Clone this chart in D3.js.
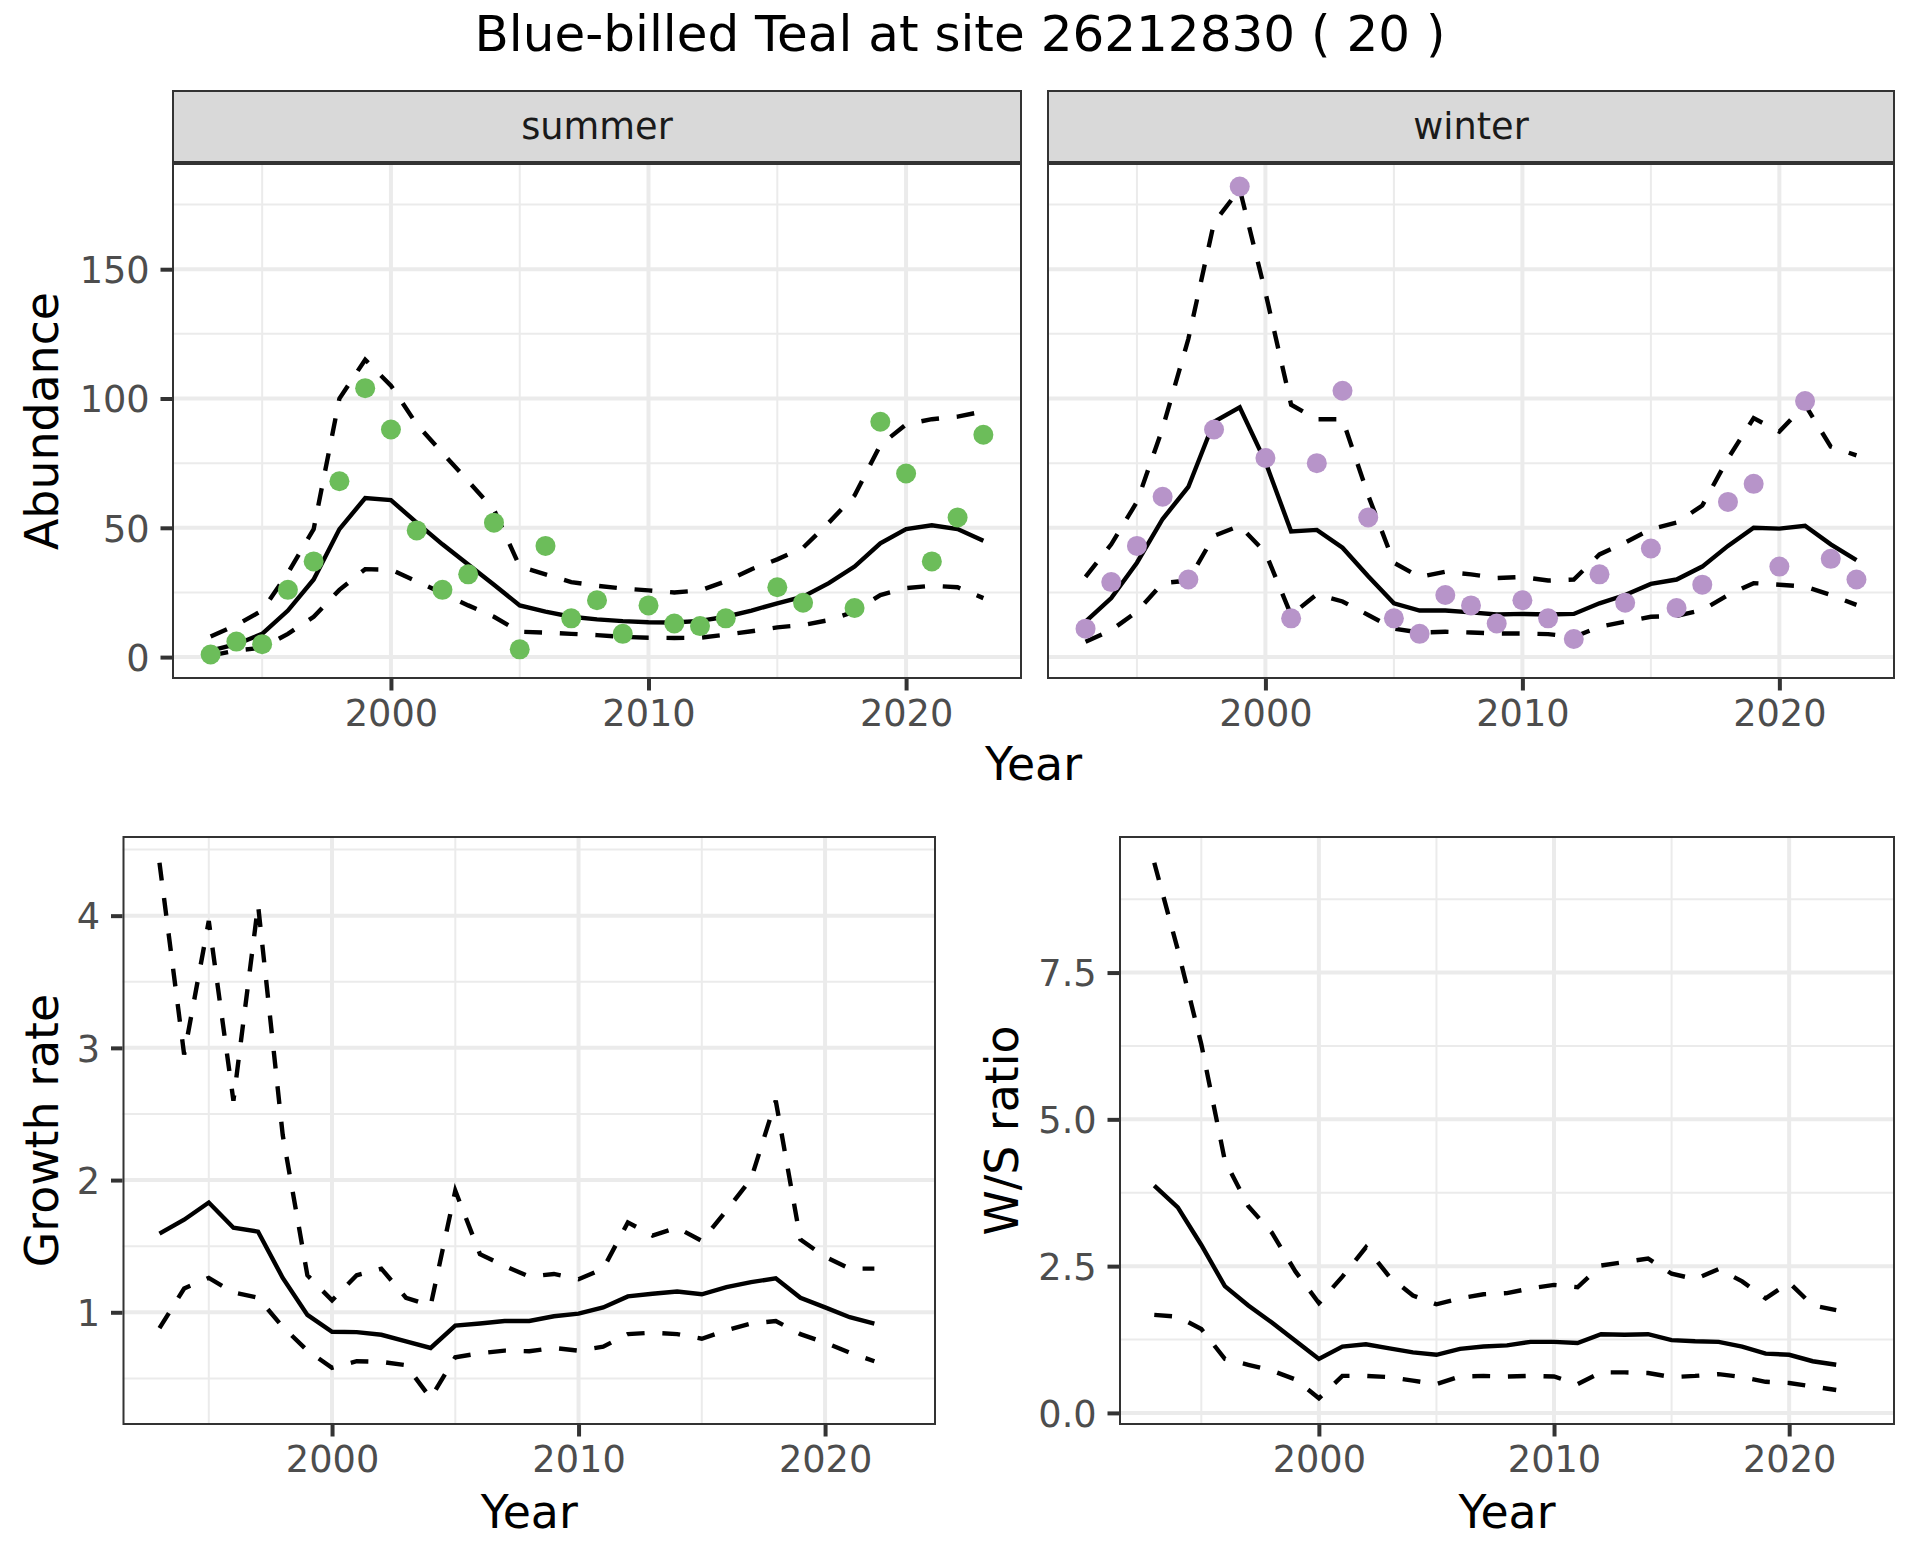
<!DOCTYPE html>
<html>
<head>
<meta charset="utf-8">
<title>Blue-billed Teal at site 26212830</title>
<script src="https://cdnjs.cloudflare.com/ajax/libs/d3/7.8.5/d3.min.js"></script>
<style>
  body { margin: 0; background: #fff; }
  svg { display: block; font-family: "DejaVu Sans", sans-serif; }
  .grid-major { stroke: #ebebeb; stroke-width: 4; }
  .grid-minor { stroke: #ebebeb; stroke-width: 2; }
  .axis-title { fill: #000; font-size: 45.8px; }
  .strip-text { fill: #1a1a1a; font-size: 36.7px; }
</style>
</head>
<body>
<svg width="1920" height="1560"></svg>
<script>
// data
var years = [1993, 1994, 1995, 1996, 1997, 1998, 1999, 2000, 2001, 2002, 2003, 2004, 2005, 2006, 2007, 2008,
             2009, 2010, 2011, 2012, 2013, 2014, 2015, 2016, 2017, 2018, 2019, 2020, 2021, 2022, 2023];

var summerCounts = [1, 6, 5, 26, 37, 68, 104, 88, 49, 26, 32, 52, 3, 43, 15, 22,
                    9, 20, 13, 12, 15, null, 27, 21, null, 19, 91, 71, 37, 54, 86];
var summerMean = [2.5, 5, 9, 18, 30, 49.5, 61.5, 60.7, 52, 43.6, 35.8, 28, 20, 17.6, 15.6, 14.6,
                  13.9, 13.5, 13.4, 14, 15.6, 18, 20.8, 23.4, 28.6, 35, 44, 49.5, 51, 49.5, 45];
var summerUpper = [8, 12.4, 18, 32.5, 49.5, 100, 115, 105, 90, 79, 68, 57, 35, 32, 29, 27.6,
                   26.5, 25.8, 25, 25.8, 29.3, 34, 37.8, 42.3, 52, 62.5, 82, 90, 92, 93, 95];
var summerLower = [0.6, 2.6, 3.6, 9, 15.6, 26, 34, 33.8, 29.3, 24.7, 20, 15.6, 9.8, 9.5, 9, 8.5,
                   7.8, 7.5, 7.4, 7.5, 8.7, 10, 11.5, 12.4, 14.3, 17.6, 24, 26.7, 27.6, 27, 22.8];

var winterCounts = [11, 29, 43, 62, 30, 88, 182, 77, 15, 75, 103, 54, 15, 9, 24, 20,
                    13, 22, 15, 7, 32, 21, 42, 19, 28, 60, 67, 35, 99, 38, 30];
var winterMean = [13.7, 22.8, 36.5, 53.4, 65.8, 91, 96.6, 75.5, 48.6, 49.2, 42.3, 31.3, 20.8, 18, 18, 17.3,
                  16.5, 16.7, 16.5, 16.7, 20.8, 24, 28.3, 30, 35, 43, 50, 49.7, 50.8, 43.6, 37.5];
var winterUpper = [31, 43.6, 60, 88.5, 123, 168, 181, 141, 97.6, 92, 92, 62.5, 36.5, 31, 33, 32,
                   30.6, 31, 29.6, 30, 39.7, 44.3, 49.5, 52, 58.6, 76.8, 92.4, 87.2, 97.6, 81.4, 78];
var winterLower = [5.9, 10.4, 17.6, 28.6, 29.6, 46.9, 50.8, 40.4, 16.3, 24.3, 21.5, 16.3, 11, 9.5, 9.8, 9.5,
                   9.1, 9.1, 8.9, 7.8, 11.7, 13.7, 15.6, 15.9, 18.2, 24, 28.6, 28, 27.3, 24, 20.2];

var rateYears = [1993, 1994, 1995, 1996, 1997, 1998, 1999, 2000, 2001, 2002, 2003, 2004, 2005, 2006, 2007,
                 2008, 2009, 2010, 2011, 2012, 2013, 2014, 2015, 2016, 2017, 2018, 2019, 2020, 2021, 2022];

var growthMean = [1.595, 1.70, 1.83, 1.64, 1.61, 1.26, 0.98, 0.853, 0.85, 0.83, 0.78, 0.73, 0.90, 0.915, 0.934,
                  0.934, 0.97, 0.99, 1.037, 1.12, 1.14, 1.157, 1.136, 1.19, 1.228, 1.257, 1.11, 1.037, 0.963, 0.915];
var growthUpper = [4.40, 2.95, 3.96, 2.60, 4.08, 2.34, 1.28, 1.09, 1.28, 1.33, 1.11, 1.05, 1.92, 1.44, 1.35,
                   1.27, 1.29, 1.25, 1.33, 1.68, 1.58, 1.64, 1.54, 1.77, 2.01, 2.60, 1.55, 1.42, 1.33, 1.33];
var growthLower = [0.88, 1.18, 1.26, 1.15, 1.11, 0.89, 0.71, 0.58, 0.63, 0.625, 0.60, 0.35, 0.66, 0.69, 0.71,
                   0.705, 0.73, 0.71, 0.74, 0.835, 0.846, 0.835, 0.80, 0.864, 0.915, 0.934, 0.835, 0.77, 0.695, 0.63];

var ratioMean = [3.87, 3.50, 2.86, 2.16, 1.83, 1.54, 1.23, 0.92, 1.13, 1.17, 1.10, 1.03, 0.99, 1.09, 1.13,
                 1.15, 1.21, 1.21, 1.19, 1.34, 1.33, 1.34, 1.24, 1.22, 1.21, 1.13, 1.01, 0.99, 0.88, 0.82];
var ratioUpper = [9.37, 7.89, 6.28, 4.30, 3.52, 3.07, 2.41, 1.87, 2.32, 2.82, 2.32, 2.0, 1.85, 1.95, 2.02,
                  2.04, 2.12, 2.18, 2.14, 2.51, 2.57, 2.63, 2.37, 2.28, 2.45, 2.24, 1.95, 2.22, 1.83, 1.75];
var ratioLower = [1.67, 1.64, 1.43, 0.92, 0.82, 0.72, 0.57, 0.25, 0.63, 0.63, 0.61, 0.55, 0.49, 0.62, 0.63,
                  0.62, 0.63, 0.62, 0.49, 0.69, 0.69, 0.68, 0.61, 0.63, 0.66, 0.61, 0.53, 0.51, 0.45, 0.39];

// breaks and labels
var yearTicks = [2000, 2010, 2020];
var yearMinor = [1995, 2005, 2015];
var abundanceTicks = [0, 50, 100, 150];
var abundanceMinor = [25, 75, 125, 175];
var growthTicks = [1, 2, 3, 4];
var growthMinor = [0.5, 1.5, 2.5, 3.5, 4.5];
var ratioTicks = [0, 2.5, 5, 7.5];
var ratioTickLabels = ["0.0", "2.5", "5.0", "7.5"];
var ratioMinor = [1.25, 3.75, 6.25, 8.75];

var svg = d3.select("svg");

// ggplot style 5% expansion
function expand(ext) {
  var d = ext[1] - ext[0];
  return [ext[0] - 0.05 * d, ext[1] + 0.05 * d];
}
function extentOf(arrays) {
  var all = [];
  arrays.forEach(function(a) { a.forEach(function(v) { if (v != null) all.push(v); }); });
  return d3.extent(all);
}

var xDomain = expand([years[0], years[years.length - 1]]);

function drawPanel(box, opt) {
  var w = box.right - box.left, h = box.bottom - box.top;
  var x = d3.scaleLinear().domain(xDomain).range([0, w]);
  var y = d3.scaleLinear().domain(opt.yDomain).range([h, 0]);
  var g = svg.append("g").attr("transform", "translate(" + box.left + "," + box.top + ")");

  g.append("rect").attr("width", w).attr("height", h).attr("fill", "#fff");

  var inY = function(v) { return v >= opt.yDomain[0] && v <= opt.yDomain[1]; };
  g.selectAll(".hmin").data(opt.yMinor.filter(inY)).enter().append("line")
    .attr("class", "grid-minor").attr("x1", 0).attr("x2", w)
    .attr("y1", function(d) { return y(d); }).attr("y2", function(d) { return y(d); });
  g.selectAll(".vmin").data(yearMinor).enter().append("line")
    .attr("class", "grid-minor").attr("y1", 0).attr("y2", h)
    .attr("x1", function(d) { return x(d); }).attr("x2", function(d) { return x(d); });
  g.selectAll(".hmaj").data(opt.yTicks.filter(inY)).enter().append("line")
    .attr("class", "grid-major").attr("x1", 0).attr("x2", w)
    .attr("y1", function(d) { return y(d); }).attr("y2", function(d) { return y(d); });
  g.selectAll(".vmaj").data(yearTicks).enter().append("line")
    .attr("class", "grid-major").attr("y1", 0).attr("y2", h)
    .attr("x1", function(d) { return x(d); }).attr("x2", function(d) { return x(d); });

  opt.lines.forEach(function(ln) {
    var line = d3.line()
      .defined(function(d) { return d[1] != null; })
      .x(function(d) { return x(d[0]); })
      .y(function(d) { return y(d[1]); });
    g.append("path")
      .datum(opt.xs.map(function(yr, i) { return [yr, ln.values[i]]; }))
      .attr("fill", "none")
      .attr("stroke", "#000")
      .attr("stroke-width", 4.4)
      .attr("stroke-dasharray", ln.dashed ? "17.8,17.8" : null)
      .attr("d", line);
  });

  if (opt.points) {
    g.selectAll(".pt")
      .data(opt.xs.map(function(yr, i) { return [yr, opt.points[i]]; }).filter(function(d) { return d[1] != null; }))
      .enter().append("circle")
      .attr("cx", function(d) { return x(d[0]); })
      .attr("cy", function(d) { return y(d[1]); })
      .attr("r", 10)
      .attr("fill", opt.pointColor);
  }

  g.append("rect").attr("x", 1).attr("y", 1).attr("width", w - 2).attr("height", h - 2)
    .attr("fill", "none").attr("stroke", "#333").attr("stroke-width", 2);

  var xAxis = g.append("g").attr("transform", "translate(0," + h + ")")
    .call(d3.axisBottom(x).tickValues(yearTicks).tickFormat(d3.format("d")).tickSize(11.5).tickPadding(9.5));
  styleAxis(xAxis);

  if (opt.yAxis) {
    var yAx = d3.axisLeft(y).tickValues(opt.yTicks).tickSize(11.5).tickPadding(10.8);
    if (opt.yLabels) yAx.tickFormat(function(d, i) { return opt.yLabels[i]; });
    else yAx.tickFormat(d3.format("d"));
    var yG = g.append("g").call(yAx);
    styleAxis(yG);
    yG.selectAll(".tick text").attr("dy", "0.36em");
  }

  if (opt.strip) {
    g.append("rect").attr("x", 1).attr("y", -73 + 1).attr("width", w - 2).attr("height", 73 - 2)
      .attr("fill", "#d9d9d9").attr("stroke", "#333").attr("stroke-width", 2);
    g.append("text").attr("class", "strip-text").attr("x", w / 2).attr("y", -73 / 2 + 12.5)
      .attr("text-anchor", "middle").text(opt.strip);
  }
  return g;
}

function styleAxis(a) {
  a.select(".domain").remove();
  a.attr("font-family", null).attr("font-size", null);
  a.selectAll(".tick line").attr("stroke", "#333").attr("stroke-width", 4);
  a.selectAll(".tick text").attr("fill", "#4d4d4d").style("font-size", "36.7px")
    .style("font-family", "'DejaVu Sans', sans-serif");
}

// top row: shared y
var abDomain = expand(extentOf([summerCounts, summerMean, summerUpper, summerLower,
                                winterCounts, winterMean, winterUpper, winterLower]));

var summerBox = {left: 172, top: 163, right: 1022, bottom: 679};
var winterBox = {left: 1047, top: 163, right: 1895, bottom: 679};
var growthBox = {left: 122.5, top: 836, right: 936, bottom: 1425};
var ratioBox = {left: 1119, top: 836, right: 1895, bottom: 1425};

drawPanel(summerBox, {
  xs: years, yDomain: abDomain, yTicks: abundanceTicks, yMinor: abundanceMinor, yAxis: true,
  lines: [{values: summerMean}, {values: summerUpper, dashed: true}, {values: summerLower, dashed: true}],
  points: summerCounts, pointColor: "#6cbd5a", strip: "summer"
});
drawPanel(winterBox, {
  xs: years, yDomain: abDomain, yTicks: abundanceTicks, yMinor: abundanceMinor, yAxis: false,
  lines: [{values: winterMean}, {values: winterUpper, dashed: true}, {values: winterLower, dashed: true}],
  points: winterCounts, pointColor: "#b794c9", strip: "winter"
});
drawPanel(growthBox, {
  xs: rateYears, yDomain: expand(extentOf([growthMean, growthUpper, growthLower])),
  yTicks: growthTicks, yMinor: growthMinor, yAxis: true,
  lines: [{values: growthMean}, {values: growthUpper, dashed: true}, {values: growthLower, dashed: true}]
});
drawPanel(ratioBox, {
  xs: rateYears, yDomain: expand(extentOf([ratioMean, ratioUpper, ratioLower])),
  yTicks: ratioTicks, yLabels: ratioTickLabels, yMinor: ratioMinor, yAxis: true,
  lines: [{values: ratioMean}, {values: ratioUpper, dashed: true}, {values: ratioLower, dashed: true}]
});

// titles
svg.append("text").attr("x", 960).attr("y", 51).attr("text-anchor", "middle")
  .style("font-size", "50px").attr("fill", "#000")
  .text("Blue-billed Teal at site 26212830 ( 20 )");

svg.append("text").attr("class", "axis-title").attr("text-anchor", "middle")
  .attr("x", (summerBox.left + winterBox.right) / 2).attr("y", 780).text("Year");
svg.append("text").attr("class", "axis-title").attr("text-anchor", "middle")
  .attr("x", (growthBox.left + growthBox.right) / 2).attr("y", 1528).text("Year");
svg.append("text").attr("class", "axis-title").attr("text-anchor", "middle")
  .attr("x", (ratioBox.left + ratioBox.right) / 2).attr("y", 1528).text("Year");

function yTitle(label, xBase, box) {
  svg.append("text").attr("class", "axis-title").attr("text-anchor", "middle")
    .attr("transform", "translate(" + xBase + "," + (box.top + box.bottom) / 2 + ") rotate(-90)")
    .text(label);
}
yTitle("Abundance", 58, summerBox);
yTitle("Growth rate", 58, growthBox);
yTitle("W/S ratio", 1018, ratioBox);
</script>
</body>
</html>
